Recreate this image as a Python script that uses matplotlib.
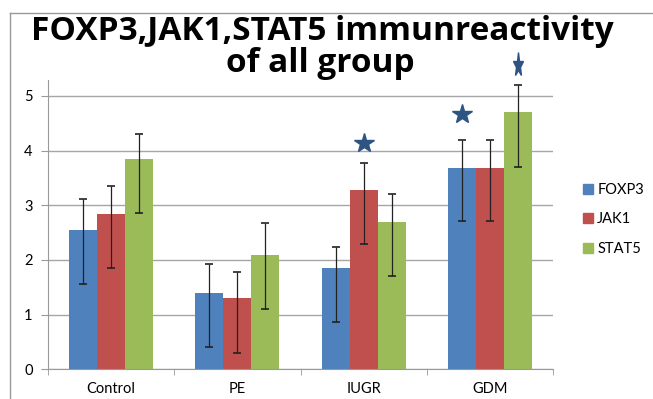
import numpy as np
import matplotlib.pyplot as plt
from matplotlib.markers import MarkerStyle
from matplotlib.transforms import Affine2D
from matplotlib.lines import Line2D

plt.rcParams['font.family'] = ['Lato', 'DejaVu Sans']

# data
groups = ['Control', 'PE', 'IUGR', 'GDM']
series = ['FOXP3', 'JAK1', 'STAT5']
foxp3 = [2.55, 1.39, 1.85, 3.69]
jak1 = [2.84, 1.30, 3.27, 3.69]
stat5 = [3.85, 2.09, 2.70, 4.70]
# upper / lower ends of the error bars
foxp3_hi = [3.11, 1.92, 2.23, 4.20]
foxp3_lo = [1.56, 0.40, 0.86, 2.71]
jak1_hi = [3.35, 1.78, 3.77, 4.20]
jak1_lo = [1.85, 0.30, 2.29, 2.71]
stat5_hi = [4.30, 2.67, 3.20, 5.20]
stat5_lo = [2.85, 1.10, 1.71, 3.70]
# significance stars: (group, series, y)
stars = [(2, 1, 4.14), (3, 0, 4.67)]
narrow_star = (3, 2, 5.56)

colors = ['#4f81bd', '#c0504d', '#9bbb59']

fig = plt.figure(figsize=(6.53, 3.99), dpi=100)
W, H = 653, 399
ax = fig.add_axes([48 / W, 1 - 369.3 / H, (553 - 48) / W, (369.3 - 80) / H])

x = np.arange(len(groups))
w = 1 / 4.5
vals = [foxp3, jak1, stat5]
his = [foxp3_hi, jak1_hi, stat5_hi]
los = [foxp3_lo, jak1_lo, stat5_lo]
for i in range(3):
    v = np.array(vals[i])
    err = [v - np.array(los[i]), np.array(his[i]) - v]
    ax.bar(x + (i - 1) * w, v, w, color=colors[i], label=series[i], zorder=2)
    ax.errorbar(x + (i - 1) * w, v, yerr=err, fmt='none', ecolor='#222222',
                elinewidth=0.9, capsize=3, capthick=1.2, zorder=3)

for g, s, y in stars:
    ax.plot(x[g] + (s - 1) * w, y, marker='*', ms=15, color='#2e5483',
            clip_on=False, zorder=4)
g, s, y = narrow_star
ax.plot(x[g] + (s - 1) * w, y,
        marker=MarkerStyle('*', transform=Affine2D().scale(0.5, 1.15)),
        ms=16, color='#2e5483', clip_on=False, zorder=4)

ax.set_xlim(-0.5, 3.5)
ax.set_ylim(0, 5.29)
ax.set_yticks(range(6))
ax.yaxis.grid(True, color='#a6a6a6', lw=1)
ax.set_axisbelow(True)
ax.set_xticks(x)
ax.set_xticklabels(groups)
ax.set_xticks([-0.5, 0.5, 1.5, 2.5, 3.5], minor=True)
ax.tick_params(axis='x', which='major', length=0, pad=9, labelsize=10.5)
ax.tick_params(axis='x', which='minor', length=4, color='#999999')
ax.tick_params(axis='y', length=5, color='#999999', labelsize=10.5, pad=6)
for sp in ['top', 'right']:
    ax.spines[sp].set_visible(False)
for sp in ['left', 'bottom']:
    ax.spines[sp].set_color('#999999')

handles = [Line2D([], [], marker='s', ls='none', color=c, ms=7) for c in colors]
fig.legend(handles, series, loc='upper left', bbox_to_anchor=(568 / W, 1 - 170 / H),
           frameon=False, fontsize=10.5, handletextpad=0.1, labelspacing=1.05,
           handlelength=1.0)

fig.text(322 / W, 1 - 31 / H, 'FOXP3,JAK1,STAT5 immunreactivity',
         ha='center', va='center', fontsize=24, fontweight='bold',
         family='Open Sans')
fig.text(320 / W, 1 - 63 / H, 'of all group',
         ha='center', va='center', fontsize=24, fontweight='bold',
         family='Open Sans')

# chart border
fig.add_artist(Line2D([10 / W, 10 / W], [0, 1 - 13 / H], color='#999999', lw=1))
fig.add_artist(Line2D([10 / W, 1], [1 - 13 / H, 1 - 13 / H], color='#999999', lw=1))

fig.savefig('out.png', dpi=100)
